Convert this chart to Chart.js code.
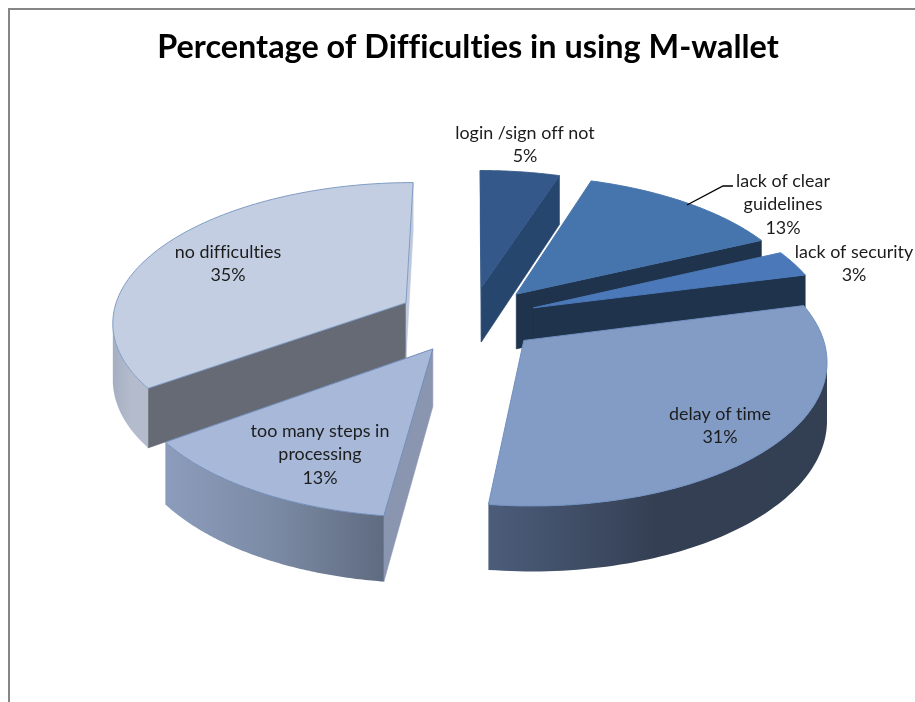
<!DOCTYPE html>
<html>
<head>
<meta charset="utf-8">
<style>html,body{margin:0;padding:0;background:#fff;overflow:hidden}#wrap{width:915px;height:702px}</style>
<script src="https://cdn.jsdelivr.net/npm/chart.js@4"></script>
</head>
<body>
<div id="wrap"><canvas id="c" width="915" height="702"></canvas></div>
<script>
const categories = ["login /sign off not","lack of clear guidelines","lack of security","delay of time","too many steps in processing","no difficulties"];
const values = [5,13,3,31,13,35];
const titleText = "Percentage of Difficulties in using M-wallet";
const topColors = ["#34588a","#4674ac","#4a78b8","#829cc6","#a8b8d8","#c4cee2"];
const edgeColors = ["#34588a","#4674ac","#4a78b8","#6f8fbf","#6f8cba","#7f9cc4"];
const startFaces = ["#34588a","#1f334c","#1f334c","#333f52","#8a96b0","#656a75"];
const endFaces = ["#26466e","#1f334c","#1f334c","#333f52","#6d7a94","#c0cadc"];
const wallStops = [
  ["#26466e","#26466e","#26466e"],
  ["#1f334c","#1f334c","#1f334c"],
  ["#1f334c","#1f334c","#1f334c"],
  ["#4c5d7a","#343f53","#333f52"],
  ["#8c9cbc","#7b8aa4","#5f6b80"],
  ["#a6afc2","#b3bbcc","#b3bbcc"]
];
const explode = [68,70,67,69,73,74];
const labelLines = [["login /sign off not"],["lack of clear","guidelines"],["lack of security"],["delay of time"],["too many steps in","processing"],["no difficulties"]];
const labelAnchors = [[525,133],[783,181],[854,252],[720,414],[320,431],[228,252]];

const PERSP = 0.125, TILT = 0.4725, DEPTH = 56, SHIFT_X = 3;

class Pie3D extends Chart.PieController {
  static id = 'pie3d';
  draw() {
    const ctx = this.chart.ctx, arcs = this._cachedMeta.data;
    const R = arcs[0].outerRadius;
    const off = i => arcs[i].options.offset;
    const project = (i, a, r, h) => {
      const el = arcs[i], mid = (el.startAngle + el.endAngle) / 2;
      const u = Math.cos(mid) * off(i) + Math.cos(a) * r;
      const v = Math.sin(mid) * off(i) + Math.sin(a) * r;
      const w = 1 - PERSP * v / R;
      return [el.x + SHIFT_X + u / w, el.y + (TILT * v + h) / w];
    };
    const poly = pts => { ctx.beginPath(); pts.forEach((p, k) => k ? ctx.lineTo(p[0], p[1]) : ctx.moveTo(p[0], p[1])); ctx.closePath(); };
    const area = q => q.reduce((s, p, k) => { const n = q[(k + 1) % q.length]; return s + p[0] * n[1] - n[0] * p[1]; }, 0);
    const order = arcs.map((_, i) => i).sort((a, b) =>
      Math.sin((arcs[a].startAngle + arcs[a].endAngle) / 2) - Math.sin((arcs[b].startAngle + arcs[b].endAngle) / 2));
    for (const i of order) {
      const el = arcs[i];
      const fill = c => { ctx.fillStyle = c; ctx.strokeStyle = c; ctx.lineWidth = 0.6; ctx.fill(); ctx.stroke(); };
      const face = a => [project(i, a, 0, 0), project(i, a, R, 0), project(i, a, R, DEPTH), project(i, a, 0, DEPTH)];
      const sf = face(el.startAngle), ef = face(el.endAngle);
      if (area(sf) < 0) { poly(sf); fill(startFaces[i]); }
      if (area(ef) > 0) { poly(ef); fill(endFaces[i]); }
      const steps = 90, da = (el.endAngle - el.startAngle) / steps;
      const upper = [], lower = [];
      for (let s = 0; s < steps; s++) {
        const a = el.startAngle + s * da;
        const p0 = project(i, a, R, 0), p1 = project(i, a + da, R, 0), q1 = project(i, a + da, R, DEPTH), q0 = project(i, a, R, DEPTH);
        if (area([p0, p1, q1, q0]) < 0) {
          if (!upper.length) { upper.push(p0); lower.push(q0); }
          upper.push(p1); lower.push(q1);
        }
      }
      if (upper.length > 1) {
        const xs = upper.map(p => p[0]);
        const gg = ctx.createLinearGradient(Math.min(...xs), 0, Math.max(...xs), 0);
        wallStops[i].forEach((c, k) => gg.addColorStop(k / 2, c));
        poly(upper.concat(lower.slice().reverse()));
        ctx.fillStyle = gg; ctx.fill();
      }
      const rim = [project(i, el.startAngle, 0, 0)];
      for (let s = 0; s <= steps; s++) rim.push(project(i, el.startAngle + s * da, R, 0));
      poly(rim);
      ctx.fillStyle = el.options.backgroundColor; ctx.fill();
      ctx.strokeStyle = el.options.borderColor; ctx.lineWidth = 1; ctx.stroke();
    }
  }
}
Chart.register(Pie3D);

const frameAndLabels = {
  id: 'frameAndLabels',
  beforeDraw(chart) {
    const c = chart.ctx;
    c.letterSpacing = '0.01px';
    c.save();
    c.strokeStyle = '#868686'; c.lineWidth = 2; c.strokeRect(9, 9, 1000, 1000);
    c.restore();
  },
  afterDraw(chart) {
    const c = chart.ctx; c.save();
    c.strokeStyle = '#000'; c.lineWidth = 1.4;
    c.beginPath(); c.moveTo(687, 205); c.lineTo(723, 186); c.lineTo(733, 186); c.stroke();
    c.fillStyle = '#1c1c1c'; c.font = '17.9px Lato'; c.textAlign = 'center'; c.textBaseline = 'middle';
    labelLines.forEach((lines, i) => {
      const [x, y] = labelAnchors[i];
      lines.concat(values[i] + '%').forEach((t, k) => c.fillText(t, x, y + k * 23.4));
    });
    c.restore();
  }
};

new Chart(document.getElementById('c'), {
  type: 'pie3d',
  data: { labels: categories, datasets: [{ data: values, backgroundColor: topColors, borderColor: edgeColors, offset: explode }] },
  options: {
    responsive: false, animation: false, events: [], radius: 294,
    layout: { padding: { left: 21, right: 0, top: 0, bottom: 136 } },
    plugins: {
      legend: { display: false }, tooltip: { enabled: false },
      title: { display: true, text: titleText, color: '#000', font: { family: 'Lato', size: 32.4, weight: 'bold', lineHeight: 1.2 }, padding: { top: 28, bottom: 4 } }
    }
  },
  plugins: [frameAndLabels]
});
</script>
</body>
</html>
